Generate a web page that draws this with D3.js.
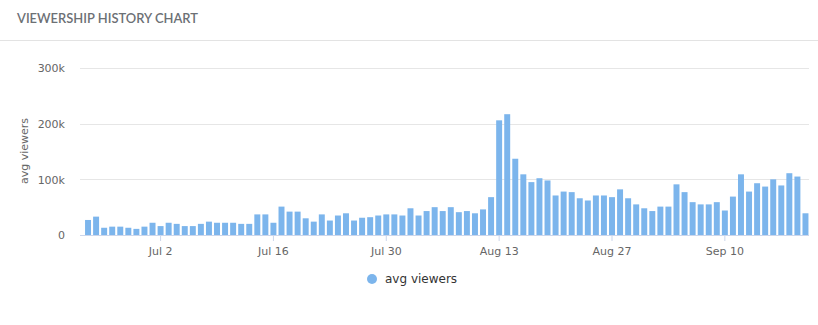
<!DOCTYPE html>
<html>
<head>
<meta charset="utf-8">
<script src="https://cdn.jsdelivr.net/npm/d3@7/dist/d3.min.js"></script>
<style>
  html, body { margin: 0; padding: 0; background: #fff; }
  svg { display: block; }
</style>
</head>
<body>
<svg id="chart" width="818" height="325"></svg>
<script>
// ---- data ----
const title = "VIEWERSHIP HISTORY CHART";
const seriesName = "avg viewers";
const startDate = "2018-06-23";
const endDate = "2018-09-21"; // exclusive
const avgViewers = [
  27000, 33000, 13000, 15000, 15000, 13000, 11000, 15000, 22000, 16000,
  22000, 20000, 16000, 16000, 20000, 24000, 22000, 22000, 22000, 20000,
  20000, 37000, 37000, 22000, 51000, 42000, 42000, 30000, 24000, 37000,
  26000, 35000, 39000, 26000, 31000, 32000, 35000, 37000, 37000, 35000,
  48000, 35000, 43000, 50000, 43000, 50000, 41000, 43000, 39000, 46000,
  68000, 206000, 217000, 137000, 109000, 95000, 102000, 98000, 71000, 78000,
  77000, 66000, 62000, 71000, 71000, 68000, 82000, 66000, 55000, 48000,
  43000, 51000, 51000, 91000, 77000, 59000, 55000, 55000, 59000, 44000,
  69000, 109000, 78000, 93000, 87000, 100000, 89000, 111000, 105000, 39000
];
const tickDates = ["2018-07-02", "2018-07-16", "2018-07-30", "2018-08-13", "2018-08-27", "2018-09-10"];
const tickLabels = ["Jul 2", "Jul 16", "Jul 30", "Aug 13", "Aug 27", "Sep 10"];
const yTicks = [0, 100000, 200000, 300000];
const yTickLabels = ["0", "100k", "200k", "300k"];

// ---- build ----
const parse = d3.utcParse("%Y-%m-%d");
const fmt = d3.utcFormat("%Y-%m-%d");
const days = d3.utcDay.range(parse(startDate), parse(endDate)).map(fmt);
const data = days.map((d, i) => ({ date: d, value: avgViewers[i] }));

const svg = d3.select("#chart");
const W = 818;

// panel decoration
svg.append("line").attr("x1", 0).attr("x2", W).attr("y1", 40.5).attr("y2", 40.5)
  .attr("stroke", "#e3e3e3").attr("stroke-width", 1);

svg.append("text").attr("x", 17).attr("y", 23)
  .attr("font-family", "Lato, 'Open Sans', sans-serif")
  .attr("font-size", 14).attr("font-weight", 600)
  .attr("textLength", 181).attr("lengthAdjust", "spacingAndGlyphs")
  .attr("fill", "#6c7075").text(title);

const plotLeft = 80, plotRight = 809;
const x = d3.scaleBand().domain(days).range([84, 809.5]).paddingInner(0.26).paddingOuter(0.13);
const y = d3.scaleLinear().domain([0, 300000]).range([235, 68]);

// gridlines
svg.append("g").selectAll("line").data(yTicks.filter(t => t > 0)).join("line")
  .attr("x1", plotLeft).attr("x2", plotRight)
  .attr("y1", d => Math.round(y(d)) + 0.5).attr("y2", d => Math.round(y(d)) + 0.5)
  .attr("stroke", "#e6e6e6");

// y axis labels
const yAxis = d3.axisLeft(y).tickValues(yTicks).tickSize(0).tickPadding(0)
  .tickFormat((d, i) => yTickLabels[i]);
const gy = svg.append("g").attr("transform", `translate(${plotLeft - 15},0)`).call(yAxis);
gy.select(".domain").remove();
gy.selectAll("text").attr("font-family", "'DejaVu Sans', sans-serif").attr("font-size", 11)
  .attr("fill", "#666").attr("dy", "0.35em");

// y axis title
svg.append("text")
  .attr("transform", `translate(28,151) rotate(-90)`)
  .attr("text-anchor", "middle")
  .attr("font-family", "'DejaVu Sans', sans-serif").attr("font-size", 11)
  .attr("fill", "#666").text(seriesName);

// bars
svg.append("g").selectAll("rect").data(data).join("rect")
  .attr("x", d => x(d.date)).attr("width", x.bandwidth())
  .attr("y", d => y(d.value)).attr("height", d => y(0) - y(d.value))
  .attr("fill", "#7cb5ec");

// x axis
const xAxis = d3.axisBottom(x).tickValues(tickDates).tickSize(6).tickPadding(6)
  .tickFormat((d, i) => tickLabels[i]);
const gx = svg.append("g").attr("transform", `translate(0,${y(0)})`).call(xAxis);
gx.select(".domain").attr("d", `M${plotLeft},0.5H${plotRight}`).attr("stroke", "#ccd6eb");
gx.selectAll(".tick line").attr("stroke", "#ccd6eb");
gx.selectAll("text").attr("font-family", "'DejaVu Sans', sans-serif").attr("font-size", 11)
  .attr("fill", "#666");

// legend
const lg = svg.append("g").attr("transform", "translate(372,279)");
lg.append("circle").attr("r", 5).attr("fill", "#7cb5ec");
lg.append("text").attr("x", 13).attr("y", 0).attr("dy", "0.35em")
  .attr("font-family", "'DejaVu Sans', sans-serif").attr("font-size", 12)
  .attr("fill", "#333").text(seriesName);
</script>
</body>
</html>
